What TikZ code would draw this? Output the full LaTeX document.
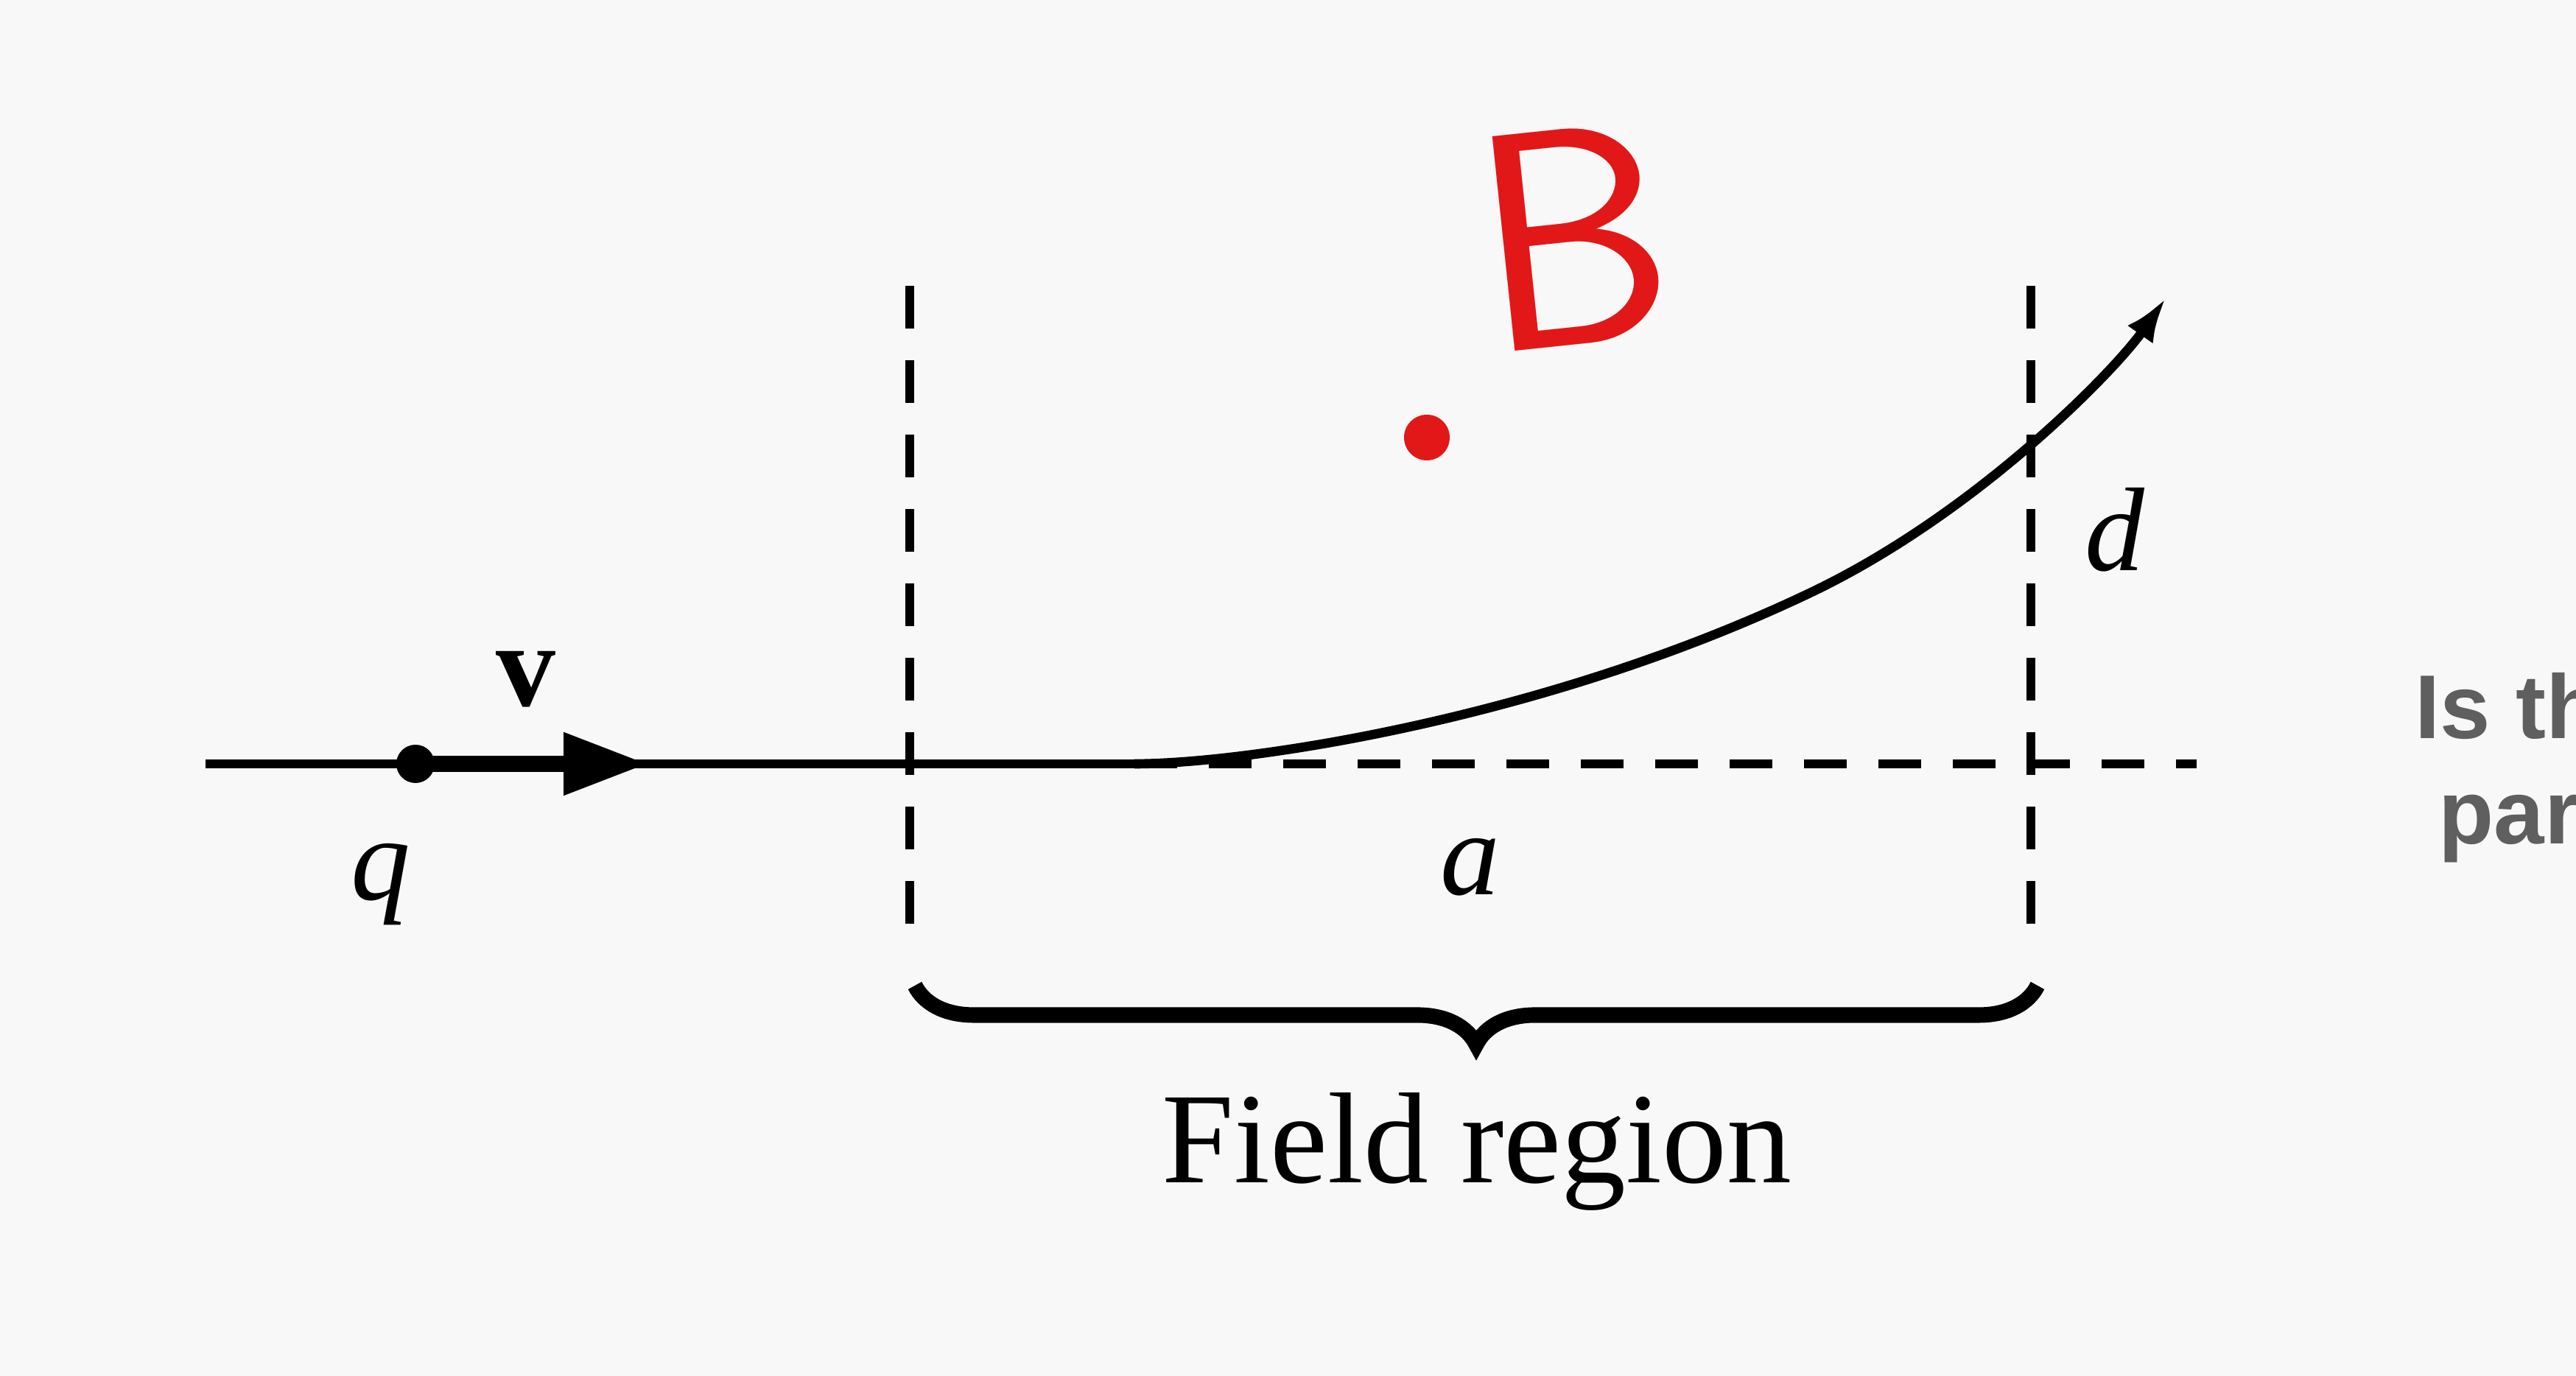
\documentclass[tikz,border=0pt]{standalone}
\usepackage{fontspec}
\setmainfont{Liberation Serif}
\newfontfamily\notefont{Liberation Sans}
\usetikzlibrary{arrows.meta,decorations.pathreplacing,positioning}
\definecolor{pagegray}{RGB}{248,248,248}
\definecolor{inkred}{RGB}{226,24,24}
\definecolor{notegray}{RGB}{95,95,95}

\begin{document}
\begin{tikzpicture}[
  track/.style={line width=3.6pt},
  guide/.style={line width=3.4pt,dash pattern=on 5.8mm off 4.3mm},
  lbl/.style={inner sep=0pt,anchor=base,font=\fontsize{46}{50}\selectfont},
  note/.style={inner sep=0pt,anchor=base west,text=notegray,font=\notefont\bfseries\fontsize{35}{40}\selectfont}
]
  \clip (0,0) rectangle (34.97,18.68);
  \fill[pagegray] (0,0) rectangle (34.97,18.68);

  % beam line and charge
  \coordinate (start) at (2.79,8.31);
  \node[circle,fill,inner sep=0pt,minimum size=5.2mm] (charge) at (5.64,8.31) {};
  \coordinate (vtip) at (8.80,8.31);
  \coordinate (bend) at (15.4,8.31);
  \coordinate (mid) at (24.57,10.63);
  \coordinate (axisend) at (29.82,8.31);
  \coordinate (tip) at (29.40,14.63);

  % field boundaries
  \coordinate (lefttop) at (12.35,14.80);
  \coordinate (leftbot) at (12.35,6.11);
  \coordinate (righttop) at (27.57,14.80);
  \coordinate (rightbot) at (27.57,6.11);
  \coordinate (braceL) at (12.42,5.30);
  \coordinate (braceR) at (27.66,5.30);

  \draw[guide] (lefttop) -- (leftbot);
  \draw[guide] (righttop) -- (rightbot);
  \draw[guide] (bend) -- (axisend);

  \draw[track] (start) -- (bend);
  \draw[line width=6pt,-{Triangle[length=11.5mm,width=8mm]}] (charge.center) -- (vtip);
  \draw[track,-{Latex[length=6mm,width=4.2mm]}]
    (bend) .. controls (16.9,8.31) and (20.96,8.91) .. (mid)
           .. controls (26.83,11.705) and (28.71,13.65) .. (tip);

  \draw[line width=6pt,decorate,decoration={brace,mirror,amplitude=8mm}] (braceL) -- (braceR);

  % labels
  \node[lbl] (qlbl) at (5.17,6.46) {\itshape q};
  \node[lbl] (vlbl) at (7.14,9.09) {\bfseries v};
  \node[lbl] (albl) at (19.96,6.53) {\itshape a};
  \node[lbl] (dlbl) at (28.71,10.93) {\itshape d};
  \node[lbl,font=\fontsize{50}{56}\selectfont] (field) at (20.05,2.62) {Field region};

  % handwritten field mark
  \node[circle,fill=inkred,inner sep=0pt,minimum size=6.2mm] (bdot) at (19.37,12.74) {};
  \node[inner sep=0pt,text=inkred,rotate=6,font=\sffamily\fontsize{120}{120}\selectfont] (bmark) at (21.35,15.47) {B};

  % cut-off side note
  \node[note] (ask1) at (32.78,8.65) {Is th};
  \node[note] (ask2) at (33.10,7.22) {part};
\end{tikzpicture}
\end{document}
